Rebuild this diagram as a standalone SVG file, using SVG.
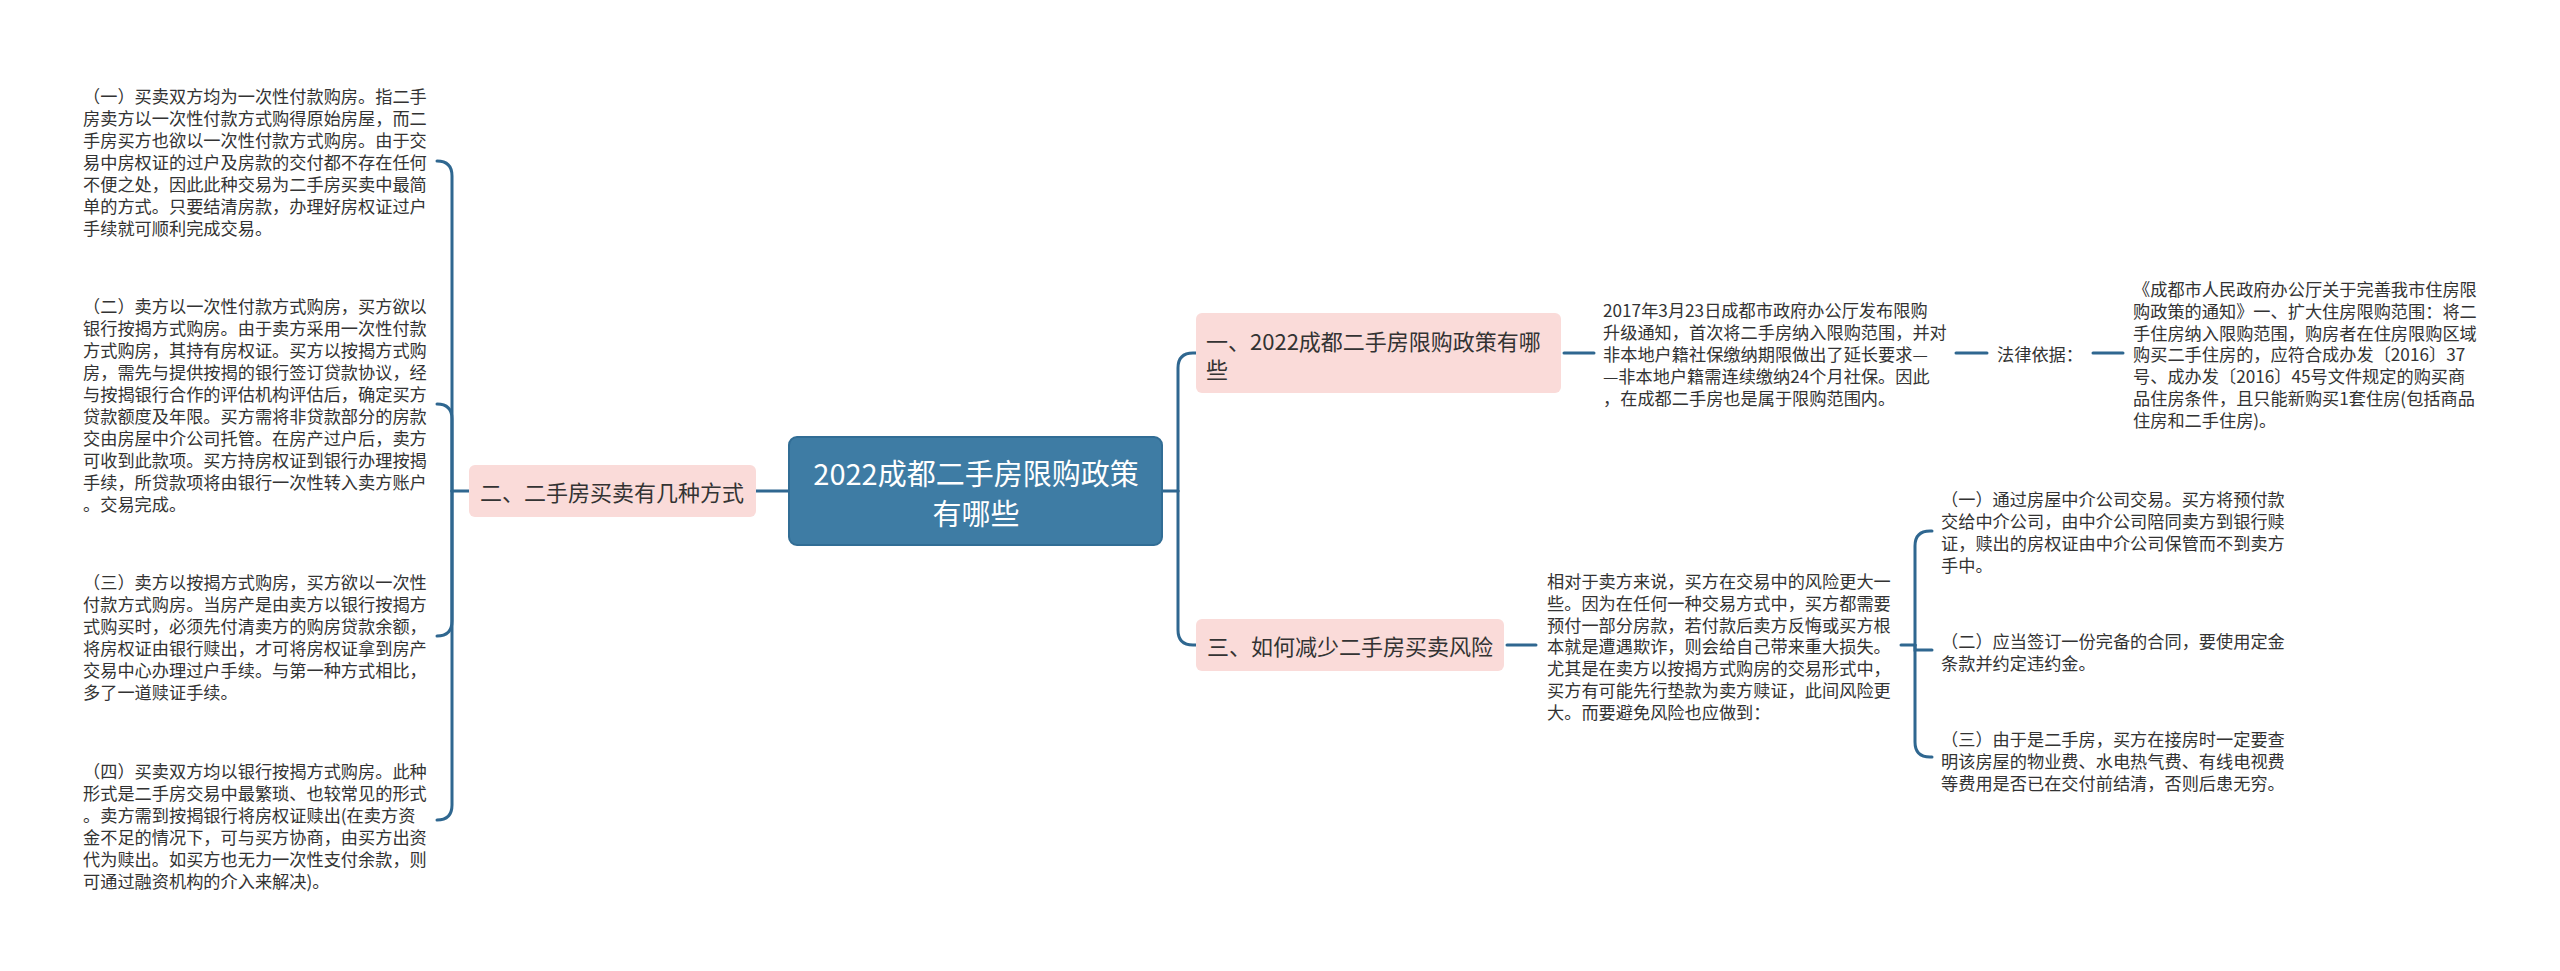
<svg xmlns="http://www.w3.org/2000/svg" width="2560" height="971" viewBox="0 0 2560 971">
<style>
.t{font-family:"Noto Sans CJK SC","Noto Sans",sans-serif;font-size:17.2px;fill:#333333;dominant-baseline:central}
.b{font-family:"Noto Sans CJK SC","Noto Sans",sans-serif;font-size:22px;fill:#333333;dominant-baseline:central}
.c{font-family:"Noto Sans CJK SC","Noto Sans",sans-serif;font-size:29px;fill:#ffffff;dominant-baseline:central;text-anchor:middle}
.pink{fill:#fadbd9}
.main{fill:#3e7ca4;stroke:#316d95;stroke-width:2}
.ln{fill:none;stroke:#2f6790;stroke-width:3;stroke-linecap:round}
</style>
<rect width="2560" height="971" fill="#ffffff"/>
<g id="connectors">
<path class="ln" d="M470,491 H452"/>
<path class="ln" d="M452,491 V176 Q452,161 437,161"/>
<path class="ln" d="M452,491 V419 Q452,404 437,404"/>
<path class="ln" d="M452,491 V621 Q452,636 437,636"/>
<path class="ln" d="M452,491 V805 Q452,820 437,820"/>
<path class="ln" d="M756,491 H789"/>
<path class="ln" d="M1162,491 H1178"/>
<path class="ln" d="M1178,491 V368 Q1178,353 1193,353 H1196"/>
<path class="ln" d="M1178,491 V630 Q1178,645 1193,645 H1196"/>
<path class="ln" d="M1564,353 H1594"/>
<path class="ln" d="M1956,353 H1987"/>
<path class="ln" d="M2093,353 H2123"/>
<path class="ln" d="M1507,645 H1536"/>
<path class="ln" d="M1901,645 H1915"/>
<path class="ln" d="M1915,645 V546 Q1915,531 1930,531 H1932"/>
<path class="ln" d="M1915,645 V650 H1932"/>
<path class="ln" d="M1915,645 V742 Q1915,757 1930,757 H1932"/>
</g>
<g id="root">
<rect class="main" x="789" y="437" width="373" height="108" rx="8"/>
<text class="c"><tspan x="976" y="472">2022成都二手房限购政策</tspan><tspan x="976" y="512">有哪些</tspan></text>
</g>
<g id="n2">
<rect class="pink" x="469" y="465" width="287" height="52" rx="6"/>
<text class="b" x="480" y="491">二、二手房买卖有几种方式</text>
</g>
<g id="n2-1">
<text class="t"><tspan x="83" y="95">（一）买卖双方均为一次性付款购房。指二手</tspan><tspan x="83" y="117">房卖方以一次性付款方式购得原始房屋，而二</tspan><tspan x="83" y="139">手房买方也欲以一次性付款方式购房。由于交</tspan><tspan x="83" y="161">易中房权证的过户及房款的交付都不存在任何</tspan><tspan x="83" y="183">不便之处，因此此种交易为二手房买卖中最简</tspan><tspan x="83" y="205">单的方式。只要结清房款，办理好房权证过户</tspan><tspan x="83" y="227">手续就可顺利完成交易。</tspan></text>
</g>
<g id="n2-2">
<text class="t"><tspan x="83" y="305">（二）卖方以一次性付款方式购房，买方欲以</tspan><tspan x="83" y="327">银行按揭方式购房。由于卖方采用一次性付款</tspan><tspan x="83" y="349">方式购房，其持有房权证。买方以按揭方式购</tspan><tspan x="83" y="371">房，需先与提供按揭的银行签订贷款协议，经</tspan><tspan x="83" y="393">与按揭银行合作的评估机构评估后，确定买方</tspan><tspan x="83" y="415">贷款额度及年限。买方需将非贷款部分的房款</tspan><tspan x="83" y="437">交由房屋中介公司托管。在房产过户后，卖方</tspan><tspan x="83" y="459">可收到此款项。买方持房权证到银行办理按揭</tspan><tspan x="83" y="481">手续，所贷款项将由银行一次性转入卖方账户</tspan><tspan x="83" y="503">。交易完成。</tspan></text>
</g>
<g id="n2-3">
<text class="t"><tspan x="83" y="581">（三）卖方以按揭方式购房，买方欲以一次性</tspan><tspan x="83" y="603">付款方式购房。当房产是由卖方以银行按揭方</tspan><tspan x="83" y="625">式购买时，必须先付清卖方的购房贷款余额，</tspan><tspan x="83" y="647">将房权证由银行赎出，才可将房权证拿到房产</tspan><tspan x="83" y="669">交易中心办理过户手续。与第一种方式相比，</tspan><tspan x="83" y="691">多了一道赎证手续。</tspan></text>
</g>
<g id="n2-4">
<text class="t"><tspan x="83" y="770">（四）买卖双方均以银行按揭方式购房。此种</tspan><tspan x="83" y="792">形式是二手房交易中最繁琐、也较常见的形式</tspan><tspan x="83" y="814">。卖方需到按揭银行将房权证赎出(在卖方资</tspan><tspan x="83" y="836">金不足的情况下，可与买方协商，由买方出资</tspan><tspan x="83" y="858">代为赎出。如买方也无力一次性支付余款，则</tspan><tspan x="83" y="880">可通过融资机构的介入来解决)。</tspan></text>
</g>
<g id="n1">
<rect class="pink" x="1196" y="313" width="365" height="80" rx="6"/>
<text class="b"><tspan x="1206" y="340">一、2022成都二手房限购政策有哪</tspan><tspan x="1206" y="368">些</tspan></text>
</g>
<g id="n1-1">
<text class="t"><tspan x="1603" y="309">2017年3月23日成都市政府办公厅发布限购</tspan><tspan x="1603" y="331">升级通知，首次将二手房纳入限购范围，并对</tspan><tspan x="1603" y="353">非本地户籍社保缴纳期限做出了延长要求—</tspan><tspan x="1603" y="375">—非本地户籍需连续缴纳24个月社保。因此</tspan><tspan x="1603" y="397">，在成都二手房也是属于限购范围内。</tspan></text>
</g>
<g id="n1-2">
<text class="t" x="1997" y="353">法律依据：</text>
</g>
<g id="n1-3">
<text class="t"><tspan x="2133" y="288">《成都市人民政府办公厅关于完善我市住房限</tspan><tspan x="2133" y="310">购政策的通知》一、扩大住房限购范围：将二</tspan><tspan x="2133" y="332">手住房纳入限购范围，购房者在住房限购区域</tspan><tspan x="2133" y="353">购买二手住房的，应符合成办发〔2016〕37</tspan><tspan x="2133" y="375">号、成办发〔2016〕45号文件规定的购买商</tspan><tspan x="2133" y="397">品住房条件，且只能新购买1套住房(包括商品</tspan><tspan x="2133" y="419">住房和二手住房)。</tspan></text>
</g>
<g id="n3">
<rect class="pink" x="1196" y="619" width="308" height="52" rx="6"/>
<text class="b" x="1207" y="645">三、如何减少二手房买卖风险</text>
</g>
<g id="n3-1">
<text class="t"><tspan x="1547" y="580">相对于卖方来说，买方在交易中的风险更大一</tspan><tspan x="1547" y="602">些。因为在任何一种交易方式中，买方都需要</tspan><tspan x="1547" y="624">预付一部分房款，若付款后卖方反悔或买方根</tspan><tspan x="1547" y="645">本就是遭遇欺诈，则会给自己带来重大损失。</tspan><tspan x="1547" y="667">尤其是在卖方以按揭方式购房的交易形式中，</tspan><tspan x="1547" y="689">买方有可能先行垫款为卖方赎证，此间风险更</tspan><tspan x="1547" y="711">大。而要避免风险也应做到：</tspan></text>
</g>
<g id="n3-2">
<text class="t"><tspan x="1941" y="498">（一）通过房屋中介公司交易。买方将预付款</tspan><tspan x="1941" y="520">交给中介公司，由中介公司陪同卖方到银行赎</tspan><tspan x="1941" y="542">证，赎出的房权证由中介公司保管而不到卖方</tspan><tspan x="1941" y="564">手中。</tspan></text>
</g>
<g id="n3-3">
<text class="t"><tspan x="1941" y="640">（二）应当签订一份完备的合同，要使用定金</tspan><tspan x="1941" y="662">条款并约定违约金。</tspan></text>
</g>
<g id="n3-4">
<text class="t"><tspan x="1941" y="738">（三）由于是二手房，买方在接房时一定要查</tspan><tspan x="1941" y="760">明该房屋的物业费、水电热气费、有线电视费</tspan><tspan x="1941" y="782">等费用是否已在交付前结清，否则后患无穷。</tspan></text>
</g>
</svg>
